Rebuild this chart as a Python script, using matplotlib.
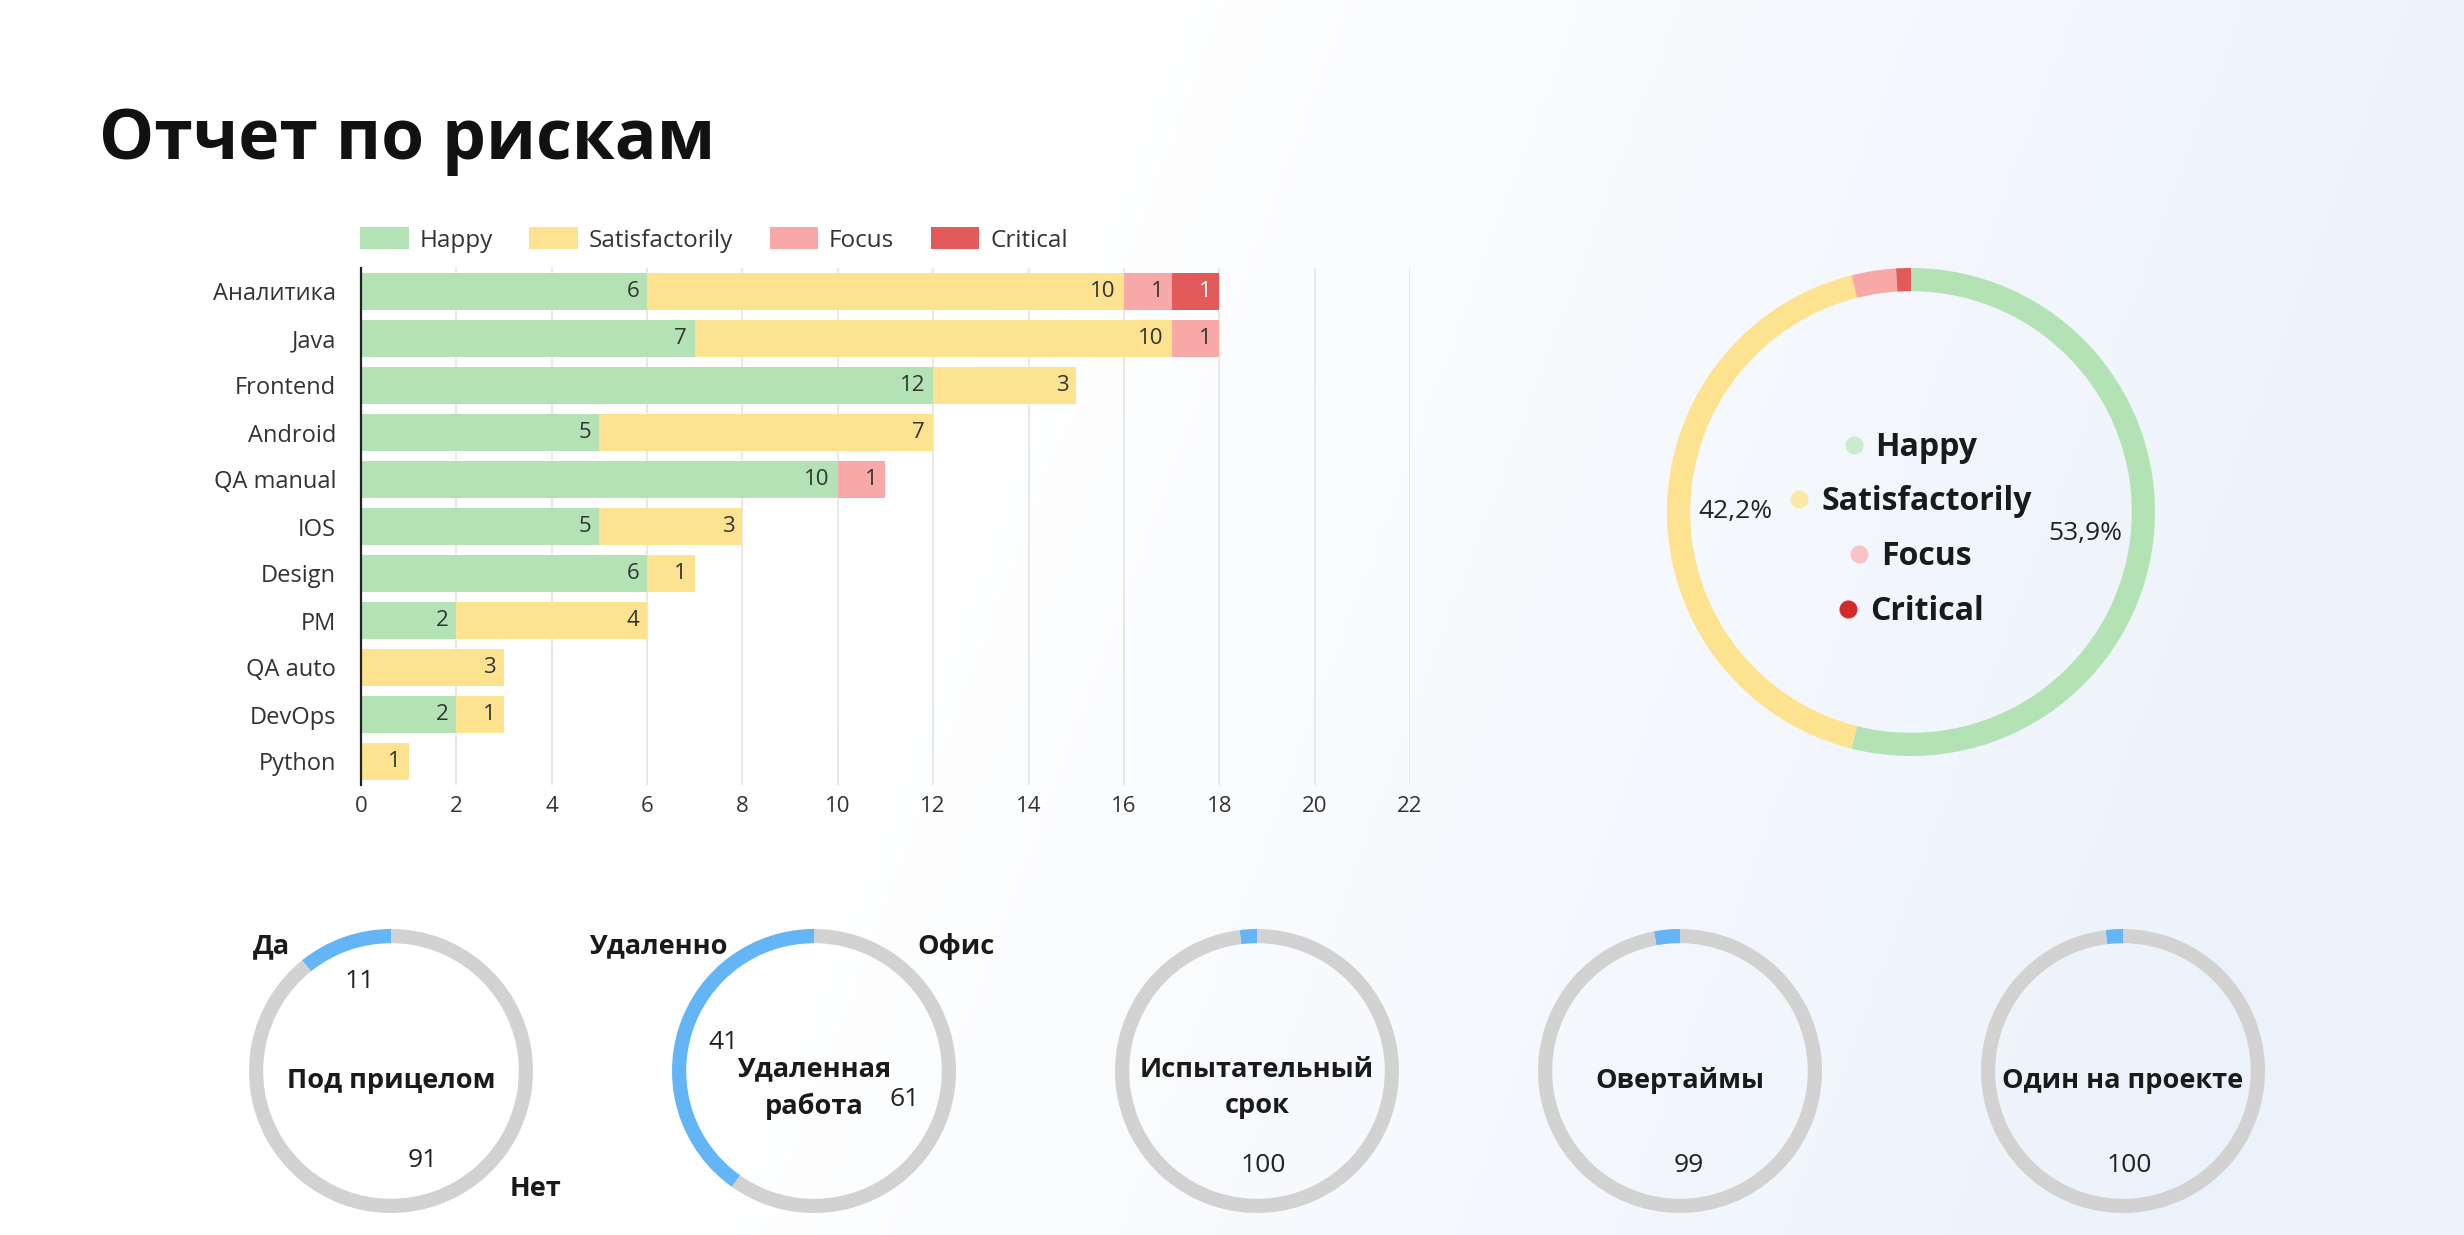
import matplotlib
matplotlib.use('Agg')
import matplotlib.pyplot as plt
import numpy as np
from matplotlib.patches import Patch

plt.rcParams['font.family'] = ['Open Sans', 'DejaVu Sans']

# --- data ---
teams = ['Аналитика', 'Java', 'Frontend', 'Android', 'QA manual', 'IOS',
         'Design', 'PM', 'QA auto', 'DevOps', 'Python']
happy = [6, 7, 12, 5, 10, 5, 6, 2, 0, 2, 0]
satisf = [10, 10, 3, 7, 0, 3, 1, 4, 3, 1, 1]
focus = [1, 1, 0, 0, 1, 0, 0, 0, 0, 0, 0]
critical = [1, 0, 0, 0, 0, 0, 0, 0, 0, 0, 0]
statuses = ['Happy', 'Satisfactorily', 'Focus', 'Critical']
xticks = list(range(0, 23, 2))

small_titles = ['Под прицелом', 'Удаленная\nработа', 'Испытательный\nсрок',
                'Овертаймы', 'Один на проекте']
small_blue = [11, 41, 2, 3, 2]
small_gray = [91, 61, 100, 99, 100]
small_names = [('Да', 'Нет'), ('Удаленно', 'Офис'), None, None, None]

# --- style ---
bar_colors = ['#b3e2b5', '#fde28f', '#f9a8a8', '#e35a5a']
dot_colors = ['#c9eccb', '#fde9a6', '#f8c3c3', '#d42a2a']
label_colors = ['#333333', '#333333', '#333333', '#ffffff']
blue, gray = '#64b5f6', '#d2d2d2'

W, H = 2464, 1235
fig = plt.figure(figsize=(W / 100, H / 100), dpi=100)

# background gradient
bg = fig.add_axes([0, 0, 1, 1], zorder=-5)
xx, yy = np.meshgrid(np.linspace(0, 1, 400), np.linspace(0, 1, 200))
t = np.clip(1.6 * (xx - 0.45) + 0.3 * yy, 0, 1)[..., None]
c0 = np.array([1.0, 1.0, 1.0])
c1 = np.array([236, 242, 251]) / 255
bg.imshow(c0 * (1 - t) + c1 * t, aspect='auto', extent=(0, 1, 0, 1))
bg.axis('off')

fig.text(99 / W, 1 - 159 / H, 'Отчет по рискам', fontsize=50,
         weight='bold', color='#111111', va='baseline')

# --- stacked bars ---
ax = fig.add_axes([361 / W, 1 - 785 / H, (1410 - 361) / W, (785 - 268) / H])
ax.patch.set_visible(False)
y = np.arange(len(teams))
left = np.zeros(len(teams))
handles = []
for name, vals, col, tcol in zip(statuses, [happy, satisf, focus, critical],
                                 bar_colors, label_colors):
    vals = np.array(vals)
    ax.barh(y, vals, left=left, height=0.8, color=col, zorder=2)
    for yi, l, v in zip(y, left, vals):
        if v:
            ax.annotate(str(v), (l + v, yi), xytext=(-8, 0),
                        textcoords='offset pixels', ha='right', va='center',
                        fontsize=16, color=tcol, zorder=3)
    left += vals
    handles.append(Patch(facecolor=col, label=name))

ax.set_xlim(0, 22)
ax.set_ylim(len(teams) - 0.5, -0.5)
ax.set_xticks(xticks)
ax.set_yticks(y)
ax.set_yticklabels(teams)
ax.tick_params(axis='x', length=0, labelsize=16, colors='#333333', pad=8)
ax.tick_params(axis='y', length=0, labelsize=17, colors='#333333', pad=18)
ax.xaxis.grid(True, color='#e4e4e4', lw=1.2, zorder=0)
ax.set_axisbelow(True)
for s in ('top', 'right', 'bottom'):
    ax.spines[s].set_visible(False)
ax.spines['left'].set_color('#222222')
ax.spines['left'].set_linewidth(1.6)

fig.legend(handles=handles, loc='center left',
           bbox_to_anchor=(360 / W, 1 - 240 / H), ncol=4, frameon=False,
           fontsize=17.5, handlelength=2.0, handleheight=1.0,
           handletextpad=0.45, columnspacing=1.5, borderpad=0,
           borderaxespad=0, labelcolor='#333333')

# --- big donut ---
totals = [sum(happy), sum(satisf), sum(focus), sum(critical)]
R = 244
cx, cy = 1911, 512
lim = 1.5
side = 2 * lim * R
axd = fig.add_axes([(cx - side / 2) / W, (H - cy - side / 2) / H, side / W, side / H])
axd.pie(totals, colors=bar_colors, startangle=90, counterclock=False,
        wedgeprops=dict(width=0.095, edgecolor='none'),
        autopct=lambda p: f'{p:.1f}%'.replace('.', ',') if p > 10 else '',
        pctdistance=0.72, textprops=dict(fontsize=19, color='#222222'))
axd.set_xlim(-lim, lim)
axd.set_ylim(-lim, lim)

renderer = fig.canvas.get_renderer()
d, g = 18 / R, 13 / R
for i, (name, col) in enumerate(zip(statuses, dot_colors)):
    yy0 = 0.266 - i * 0.224
    txt = axd.text(0, yy0, name, fontsize=23, weight='bold',
                   color='#1a1a1a', ha='left', va='center')
    w = txt.get_window_extent(renderer).width / R
    x0 = -(d + g + w) / 2
    txt.set_x(x0 + d + g)
    axd.plot([x0 + d / 2], [yy0 + 0.01], 'o', ms=13, color=col, mec='none')

# --- small donuts ---
r = 142
centers = [391, 814, 1257, 1680, 2123]
outer_pos = [[(-0.84, 0.88), (1.02, -0.83)], [(-1.10, 0.88), (1.00, 0.88)]]
for k, (title, b, gv) in enumerate(zip(small_titles, small_blue, small_gray)):
    side = 2 * lim * r
    axs = fig.add_axes([(centers[k] - side / 2) / W, (H - 1071 - side / 2) / H,
                        side / W, side / H])
    tot = b + gv
    axs.pie([b, gv], colors=[blue, gray], startangle=90, counterclock=True,
            wedgeprops=dict(width=0.1, edgecolor='none'),
            autopct=lambda p, tot=tot: f'{round(p * tot / 100):d}' if p * tot / 100 > 5 else '',
            pctdistance=0.67, textprops=dict(fontsize=19, color='#222222'))
    axs.set_xlim(-lim, lim)
    axs.set_ylim(-lim, lim)
    ty = -0.12 if '\n' in title else -0.07
    axs.text(0, ty, title, ha='center', va='center', fontsize=19.5,
             weight='bold', color='#1a1a1a', linespacing=1.5)
    if small_names[k]:
        for nm, (px, py) in zip(small_names[k], outer_pos[k]):
            axs.text(px, py, nm, ha='center', va='center', fontsize=19.5,
                     weight='bold', color='#1a1a1a')

fig.savefig('out.png', dpi=100)
